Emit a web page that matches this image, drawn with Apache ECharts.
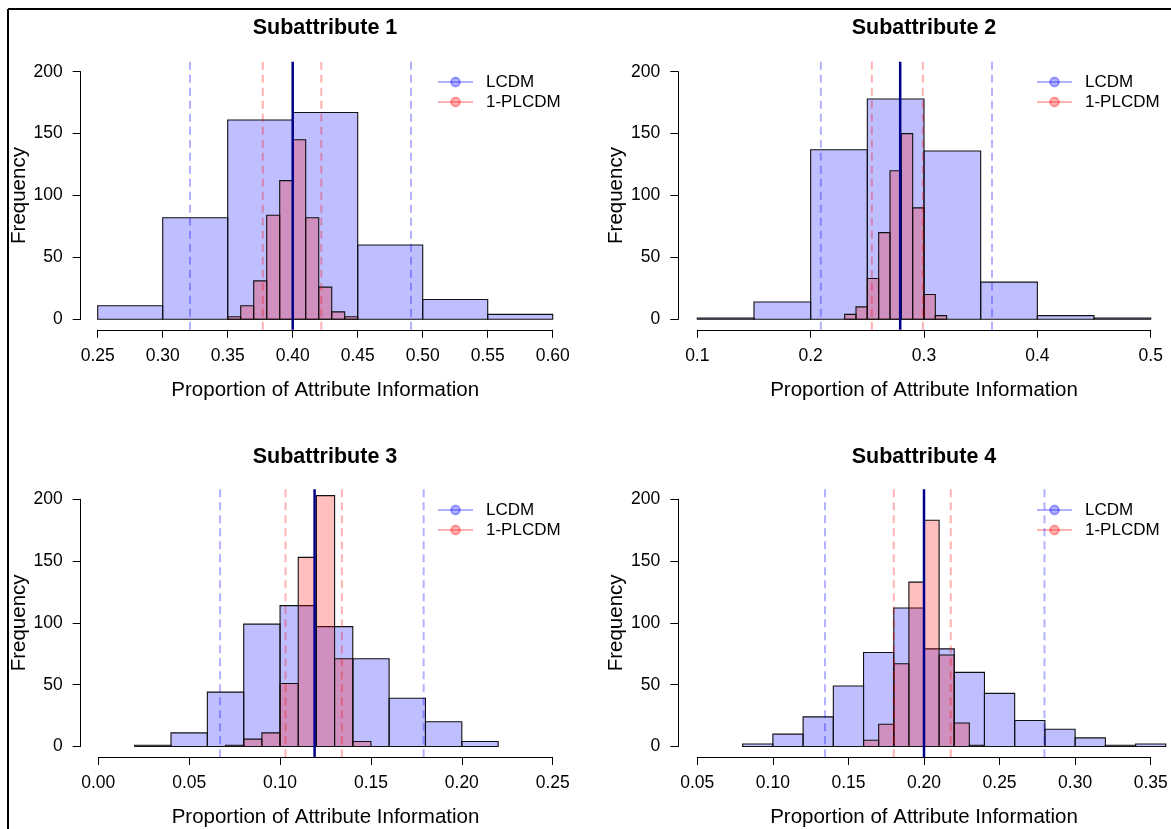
<!DOCTYPE html>
<html>
<head>
<meta charset="utf-8">
<script src="https://cdn.jsdelivr.net/npm/echarts@6/dist/echarts.min.js"></script>
<style>
html,body{margin:0;padding:0;background:#fff;}
#chart{width:1171px;height:829px;}
</style>
</head>
<body>
<div id="chart"></div>
<script>
// ---------- DATA ----------
const panelTitles = ['Subattribute 1', 'Subattribute 2', 'Subattribute 3', 'Subattribute 4'];
const seriesNames = ['LCDM', '1-PLCDM'];
const xTitle = 'Proportion of Attribute Information';
const yTitle = 'Frequency';

// Subattribute 1
const s1LcdmEdges = [0.25, 0.30, 0.35, 0.40, 0.45, 0.50, 0.55, 0.60];
const s1LcdmCounts = [11, 82, 161, 167, 60, 16, 4];
const s1PlcdmEdges = [0.35, 0.36, 0.37, 0.38, 0.39, 0.40, 0.41, 0.42, 0.43, 0.44, 0.45];
const s1PlcdmCounts = [2, 11, 31, 84, 112, 145, 82, 26, 6, 2];
const s1LcdmBounds = [0.321, 0.491];
const s1PlcdmBounds = [0.377, 0.422];
const s1TrueValue = 0.400;
const s1XTicks = [0.25, 0.60, 0.05];

// Subattribute 2
const s2LcdmEdges = [0.10, 0.15, 0.20, 0.25, 0.30, 0.35, 0.40, 0.45, 0.50];
const s2LcdmCounts = [1, 14, 137, 178, 136, 30, 3, 1];
const s2PlcdmEdges = [0.23, 0.24, 0.25, 0.26, 0.27, 0.28, 0.29, 0.30, 0.31, 0.32];
const s2PlcdmCounts = [4, 10, 33, 70, 120, 150, 90, 20, 3];
const s2LcdmBounds = [0.209, 0.360];
const s2PlcdmBounds = [0.254, 0.299];
const s2TrueValue = 0.279;
const s2XTicks = [0.1, 0.5, 0.1];

// Subattribute 3
const s3LcdmEdges = [0.02, 0.04, 0.06, 0.08, 0.10, 0.12, 0.14, 0.16, 0.18, 0.20, 0.22];
const s3LcdmCounts = [1, 11, 44, 99, 114, 97, 71, 39, 20, 4];
const s3PlcdmEdges = [0.07, 0.08, 0.09, 0.10, 0.11, 0.12, 0.13, 0.14, 0.15];
const s3PlcdmCounts = [1, 6, 11, 51, 153, 203, 71, 4];
const s3LcdmBounds = [0.067, 0.179];
const s3PlcdmBounds = [0.103, 0.134];
const s3TrueValue = 0.119;
const s3XTicks = [0.00, 0.25, 0.05];

// Subattribute 4
const s4LcdmEdges = [0.08, 0.10, 0.12, 0.14, 0.16, 0.18, 0.20, 0.22, 0.24, 0.26, 0.28, 0.30, 0.32, 0.34, 0.36];
const s4LcdmCounts = [2, 10, 24, 49, 76, 112, 79, 60, 43, 21, 14, 7, 1, 2];
const s4PlcdmEdges = [0.16, 0.17, 0.18, 0.19, 0.20, 0.21, 0.22, 0.23, 0.24];
const s4PlcdmCounts = [5, 18, 67, 133, 183, 74, 19, 1];
const s4LcdmBounds = [0.1345, 0.2797];
const s4PlcdmBounds = [0.180, 0.2177];
const s4TrueValue = 0.200;
const s4XTicks = [0.05, 0.35, 0.05];

const yTicks = [0, 200, 50];

// ---------- LAYOUT / STYLE ----------
const FONT = '"Liberation Sans", Arial, Helvetica, sans-serif';
const panels = [
  {lE: s1LcdmEdges, lC: s1LcdmCounts, pE: s1PlcdmEdges, pC: s1PlcdmCounts, lB: s1LcdmBounds, pB: s1PlcdmBounds, t: s1TrueValue, xt: s1XTicks, dec: 2,
   grid: {left: 97.7, top: 71.7, width: 455, height: 247.6}, yOff: 17, titleX: 325, titleY: 28, legend: {left: 437, top: 73}},
  {lE: s2LcdmEdges, lC: s2LcdmCounts, pE: s2PlcdmEdges, pC: s2PlcdmCounts, lB: s2LcdmBounds, pB: s2PlcdmBounds, t: s2TrueValue, xt: s2XTicks, dec: 1,
   grid: {left: 697.3, top: 71.7, width: 453.4, height: 247.6}, yOff: 19, titleX: 924, titleY: 28, legend: {left: 1036, top: 73}},
  {lE: s3LcdmEdges, lC: s3LcdmCounts, pE: s3PlcdmEdges, pC: s3PlcdmCounts, lB: s3LcdmBounds, pB: s3PlcdmBounds, t: s3TrueValue, xt: s3XTicks, dec: 2,
   grid: {left: 98.3, top: 499.3, width: 454.4, height: 247.7}, yOff: 17.6, titleX: 325, titleY: 457, legend: {left: 437, top: 501}},
  {lE: s4LcdmEdges, lC: s4LcdmCounts, pE: s4PlcdmEdges, pC: s4PlcdmCounts, lB: s4LcdmBounds, pB: s4PlcdmBounds, t: s4TrueValue, xt: s4XTicks, dec: 2,
   grid: {left: 697.3, top: 499.3, width: 453.4, height: 247.7}, yOff: 19, titleX: 924, titleY: 457, legend: {left: 1036, top: 501}}
];

const LCDM_FILL = 'rgba(0,0,255,0.25)';
const PLCDM_FILL = 'rgba(255,0,0,0.25)';
const LCDM_LINE = 'rgba(0,0,255,0.3)';
const PLCDM_LINE = 'rgba(255,0,0,0.3)';
const TRUE_LINE = '#00008B';

function binData(edges, counts) {
  return counts.map((c, i) => [edges[i], edges[i + 1], c]);
}

function barRenderer(fill) {
  return function (params, api) {
    const p0 = api.coord([api.value(0), api.value(2)]);
    const p1 = api.coord([api.value(1), 0]);
    return {
      type: 'rect',
      shape: {x: p0[0], y: p0[1], width: p1[0] - p0[0], height: p1[1] - p0[1]},
      style: {fill: fill, stroke: '#111', lineWidth: 1.1}
    };
  };
}

function vlineRenderer(color, width, dashed) {
  return function (params, api) {
    const cs = params.coordSys;
    const x = api.coord([api.value(0), 0])[0];
    return {
      type: 'line',
      shape: {x1: x, y1: cs.y - 10, x2: x, y2: cs.y + cs.height + 10.5},
      style: {stroke: color, lineWidth: width, lineDash: dashed ? [8, 5] : null}
    };
  };
}

const grids = [], xAxes = [], yAxes = [], series = [], legends = [], graphics = [];

panels.forEach((p, i) => {
  grids.push(Object.assign({containLabel: false}, p.grid));
  xAxes.push({
    type: 'value', gridIndex: i, min: p.xt[0], max: p.xt[1], interval: p.xt[2], offset: 10.5,
    axisLine: {show: true, onZero: false, lineStyle: {color: '#000', width: 1}},
    axisTick: {show: true, length: 8, lineStyle: {color: '#000', width: 1}},
    axisLabel: {fontSize: 17.5, color: '#000', margin: 17, fontFamily: FONT,
      formatter: (v) => Number(v).toFixed(p.dec)},
    splitLine: {show: false},
    name: xTitle, nameLocation: 'middle', nameGap: 50,
    nameTextStyle: {fontSize: 20.5, color: '#000', fontFamily: FONT}
  });
  yAxes.push({
    type: 'value', gridIndex: i, min: yTicks[0], max: yTicks[1], interval: yTicks[2], offset: p.yOff,
    axisLine: {show: true, onZero: false, lineStyle: {color: '#000', width: 1}},
    axisTick: {show: true, length: 8, lineStyle: {color: '#000', width: 1}},
    axisLabel: {fontSize: 17.5, color: '#000', margin: 18, fontFamily: FONT},
    splitLine: {show: false},
    name: yTitle, nameLocation: 'middle', nameGap: 51, nameRotate: 90,
    nameTextStyle: {fontSize: 20.5, color: '#000', fontFamily: FONT}
  });
  graphics.push({
    type: 'text', x: p.titleX, y: p.titleY, z: 10,
    style: {text: panelTitles[i], align: 'center', verticalAlign: 'middle',
      font: 'bold 21.5px ' + FONT, fill: '#000'}
  });
  legends.push({
    data: seriesNames, left: p.legend.left, top: p.legend.top, orient: 'vertical',
    itemWidth: 35, itemHeight: 11, itemGap: 2, padding: 0, selectedMode: false,
    textStyle: {fontSize: 17, color: '#000', fontFamily: FONT, lineHeight: 18, padding: [0, 0, 0, 8]}
  });
});

graphics.push({type: 'line', shape: {x1: 8, y1: 9, x2: 1171, y2: 9}, style: {stroke: '#000', lineWidth: 2}});
graphics.push({type: 'line', shape: {x1: 8, y1: 9, x2: 8, y2: 829}, style: {stroke: '#000', lineWidth: 2}});

// Legend carrier series (line + point icons)
series.push({type: 'line', name: 'LCDM', xAxisIndex: 0, yAxisIndex: 0, data: [], symbol: 'circle',
  lineStyle: {color: LCDM_LINE, width: 3}, itemStyle: {color: LCDM_LINE, borderColor: 'rgba(0,0,255,0.35)', borderWidth: 1.5}});
series.push({type: 'line', name: '1-PLCDM', xAxisIndex: 0, yAxisIndex: 0, data: [], symbol: 'circle',
  lineStyle: {color: PLCDM_LINE, width: 3}, itemStyle: {color: PLCDM_LINE, borderColor: 'rgba(255,0,0,0.35)', borderWidth: 1.5}});

panels.forEach((p, i) => {
  series.push({type: 'custom', name: 'LCDM', xAxisIndex: i, yAxisIndex: i, clip: false,
    renderItem: barRenderer(LCDM_FILL), encode: {x: [0, 1], y: 2}, data: binData(p.lE, p.lC), z: 2});
  series.push({type: 'custom', name: '1-PLCDM', xAxisIndex: i, yAxisIndex: i, clip: false,
    renderItem: barRenderer(PLCDM_FILL), encode: {x: [0, 1], y: 2}, data: binData(p.pE, p.pC), z: 3});
  series.push({type: 'custom', name: 'LCDM', xAxisIndex: i, yAxisIndex: i, clip: false,
    renderItem: vlineRenderer(LCDM_LINE, 2, true), encode: {x: 0}, data: p.lB.map(v => [v]), z: 4});
  series.push({type: 'custom', name: '1-PLCDM', xAxisIndex: i, yAxisIndex: i, clip: false,
    renderItem: vlineRenderer(PLCDM_LINE, 2, true), encode: {x: 0}, data: p.pB.map(v => [v]), z: 4});
  series.push({type: 'custom', name: 'true', xAxisIndex: i, yAxisIndex: i, clip: false,
    renderItem: vlineRenderer(TRUE_LINE, 2.5, false), encode: {x: 0}, data: [[p.t]], z: 5});
});

const chart = echarts.init(document.getElementById('chart'), null, {renderer: 'canvas'});
chart.setOption({
  animation: false,
  backgroundColor: '#fff',
  textStyle: {fontFamily: FONT},
  legend: legends,
  grid: grids,
  xAxis: xAxes,
  yAxis: yAxes,
  series: series,
  graphic: graphics
});
</script>
</body>
</html>
